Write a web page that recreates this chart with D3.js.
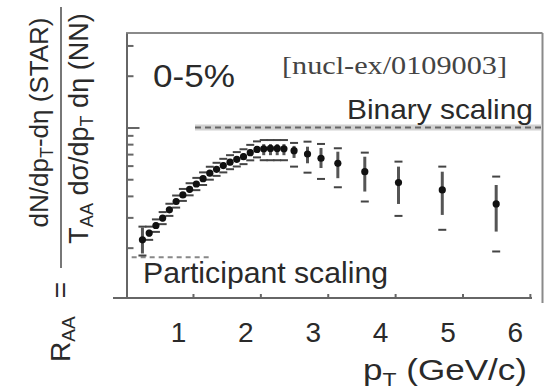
<!DOCTYPE html>
<html><head><meta charset="utf-8">
<script src="https://cdn.jsdelivr.net/npm/d3@7/dist/d3.min.js"></script>
<style>body{margin:0;background:#fff}svg{display:block}</style>
</head><body>
<script>
// ---- data ----
const pt     = [0.25,0.35,0.45,0.55,0.65,0.75,0.85,0.95,1.05,1.15,1.25,1.35,1.45,1.55,1.65,1.75,1.85,1.95,2.05,2.15,2.25,2.35,2.5,2.7,2.9,3.15,3.55,4.05,4.7,5.5];
const raa    = [0.222,0.243,0.269,0.297,0.332,0.371,0.405,0.437,0.469,0.504,0.542,0.571,0.600,0.628,0.653,0.676,0.714,0.745,0.752,0.755,0.755,0.752,0.733,0.701,0.662,0.619,0.553,0.478,0.433,0.359];
const statLo = [0.185,0.232,0.258,0.285,0.319,0.357,0.389,0.420,0.451,0.484,0.521,0.549,0.576,0.602,0.626,0.647,0.683,0.711,0.69,0.69,0.69,0.69,0.665,0.619,0.581,0.507,0.424,0.359,0.310,0.248];
const statHi = [0.262,0.254,0.280,0.309,0.345,0.386,0.421,0.455,0.488,0.524,0.564,0.594,0.625,0.655,0.681,0.706,0.746,0.780,0.80,0.80,0.80,0.80,0.781,0.773,0.760,0.723,0.676,0.592,0.553,0.463];
const sysLo  = [0.180,0.222,0.247,0.274,0.306,0.342,0.374,0.403,0.432,0.463,0.497,0.523,0.548,0.572,0.593,0.612,0.644,0.670,0.645,0.645,0.645,0.645,0.592,0.546,0.502,0.449,0.371,0.306,0.254,0.190];
const sysHi  = [0.265,0.265,0.292,0.322,0.360,0.402,0.439,0.474,0.509,0.548,0.591,0.623,0.657,0.690,0.719,0.747,0.792,0.830,0.845,0.845,0.845,0.845,0.813,0.827,0.802,0.757,0.714,0.633,0.592,0.518];
const xTicks = [1,2,3,4,5,6];
const yMinorTicks = [0.2,0.3,0.4,0.5,0.6,0.7,0.8,0.9,2,3];
const yMajorTicks = [1];
const binaryLevel = 1.0, binaryFrom = 1.03;
const participantLevel = 0.176, participantRange = [0.09,1.25];
const centralityLabel = "0-5%";
const refLabel = "[nucl-ex/0109003]";

// ---- layout ----
const W = 544, H = 389;
const svg = d3.select("body").append("svg").attr("width", W).attr("height", H)
  .style("font-family", "'Liberation Sans', Arial, sans-serif");
const x = d3.scaleLinear().domain([0, 6.18]).range([125.6, 542]);
const y = d3.scaleLog().domain([0.1019, 3.544]).range([298, 33]);
const axisCol = "#666", textCol = "#2a2a2a";

// frame top + right
svg.append("line").attr("x1",126).attr("x2",542.5).attr("y1",33).attr("y2",33).attr("stroke","#8a8a8a").attr("stroke-width",2);
svg.append("line").attr("x1",542.5).attr("x2",542.5).attr("y1",33).attr("y2",303).attr("stroke","#8a8a8a").attr("stroke-width",2);

// left axis (inward ticks)
const gy = svg.append("g").attr("transform","translate(126.5,0)");
gy.call(d3.axisRight(y).tickValues(yMinorTicks).tickSizeInner(7).tickSizeOuter(0).tickFormat(""));
gy.append("g").call(d3.axisRight(y).tickValues(yMajorTicks).tickSizeInner(13).tickSizeOuter(0).tickFormat(""))
  .select(".domain").remove();
gy.selectAll("path,line").attr("stroke",axisCol).attr("stroke-width",2);

// bottom axis
svg.append("line").attr("x1",113).attr("x2",532).attr("y1",298).attr("y2",298).attr("stroke",axisCol).attr("stroke-width",2);
const gx = svg.append("g").attr("transform","translate(0,298)");
gx.call(d3.axisBottom(x).tickValues(xTicks).tickSizeInner(-4).tickSizeOuter(0).tickPadding(24).tickFormat(d3.format("d")));
gx.select(".domain").remove();
gx.selectAll("line").attr("stroke",axisCol).attr("stroke-width",2);
gx.selectAll("text").attr("font-size",28).attr("fill",textCol).attr("dx",-15)
  .style("font-family","'Liberation Sans', Arial, sans-serif");

// binary scaling line
svg.append("line").attr("x1",x(binaryFrom)).attr("x2",x(6.18)).attr("y1",y(binaryLevel)).attr("y2",y(binaryLevel))
  .attr("stroke","#d2d2d2").attr("stroke-width",6);
svg.append("line").attr("x1",x(binaryFrom)).attr("x2",x(6.18)).attr("y1",y(binaryLevel)).attr("y2",y(binaryLevel))
  .attr("stroke","#666").attr("stroke-width",2).attr("stroke-dasharray","6,4");
// participant scaling line
svg.append("line").attr("x1",x(participantRange[0])).attr("x2",x(participantRange[1]))
  .attr("y1",y(participantLevel)).attr("y2",y(participantLevel))
  .attr("stroke","#888").attr("stroke-width",2).attr("stroke-dasharray","5,4");

// data
const pts = pt.map((p,i)=>({p, v:raa[i], sl:statLo[i], sh:statHi[i], yl:sysLo[i], yh:sysHi[i]}));
const g = svg.append("g");
g.selectAll(".cap-hi").data(pts).join("line")
  .attr("x1",d=>x(d.p)-4).attr("x2",d=>x(d.p)+4).attr("y1",d=>y(d.yh)).attr("y2",d=>y(d.yh))
  .attr("stroke","#444").attr("stroke-width",2);
g.selectAll(".cap-lo").data(pts).join("line")
  .attr("x1",d=>x(d.p)-4).attr("x2",d=>x(d.p)+4).attr("y1",d=>y(d.yl)).attr("y2",d=>y(d.yl))
  .attr("stroke","#444").attr("stroke-width",2);
g.selectAll(".stat").data(pts).join("line")
  .attr("x1",d=>x(d.p)).attr("x2",d=>x(d.p)).attr("y1",d=>y(d.sl)).attr("y2",d=>y(d.sh))
  .attr("stroke","#555").attr("stroke-width",3);
g.selectAll("circle").data(pts).join("circle")
  .attr("cx",d=>x(d.p)).attr("cy",d=>y(d.v)).attr("r",3.6).attr("fill","#111");

// texts in plot
svg.append("text").attr("x",153).attr("y",86.5).attr("font-size",31).attr("fill",textCol)
  .attr("textLength",82).attr("lengthAdjust","spacingAndGlyphs").text(centralityLabel);
svg.append("text").attr("x",282).attr("y",73.5).attr("font-size",26).attr("fill","#444")
  .style("font-family","'Liberation Serif', 'Times New Roman', serif")
  .attr("textLength",225).attr("lengthAdjust","spacingAndGlyphs").text(refLabel);
svg.append("text").attr("x",347).attr("y",118.5).attr("font-size",28).attr("fill",textCol)
  .attr("textLength",186).attr("lengthAdjust","spacingAndGlyphs").text("Binary scaling");
svg.append("text").attr("x",143).attr("y",283).attr("font-size",29).attr("fill",textCol)
  .attr("textLength",245).attr("lengthAdjust","spacingAndGlyphs").text("Participant scaling");

// x title
const xt = svg.append("text").attr("x",363).attr("y",380).attr("font-size",29).attr("fill",textCol)
  .attr("textLength",164).attr("lengthAdjust","spacingAndGlyphs");
xt.append("tspan").text("p");
xt.append("tspan").attr("font-size",19).attr("dy",6).text("T");
xt.append("tspan").attr("dy",-6).text(" (GeV/c)");

// y title (rotated fraction)
const num = svg.append("text").attr("transform","translate(48,122.5) rotate(-90)")
  .attr("text-anchor","middle").attr("font-size",26).attr("fill",textCol);
num.append("tspan").text("dN/dp");
num.append("tspan").attr("font-size",18).attr("dy",5).text("T");
num.append("tspan").attr("dy",-5).text("-d\u03b7 (STAR)");
svg.append("line").attr("x1",61).attr("x2",61).attr("y1",7).attr("y2",268).attr("stroke","#555").attr("stroke-width",1.6);
const den = svg.append("text").attr("transform","translate(88.3,128.5) rotate(-90)")
  .attr("text-anchor","middle").attr("font-size",27).attr("fill",textCol);
den.append("tspan").text("T");
den.append("tspan").attr("font-size",18).attr("dy",5).text("AA");
den.append("tspan").attr("dy",-5).text(" d\u03c3/dp");
den.append("tspan").attr("font-size",18).attr("dy",5).text("T");
den.append("tspan").attr("dy",-5).text(" d\u03b7 (NN)");
const raaT = svg.append("text").attr("transform","translate(70,362) rotate(-90)")
  .attr("font-size",28).attr("fill",textCol);
raaT.append("tspan").text("R");
raaT.append("tspan").attr("font-size",19).attr("dy",5).text("AA");
svg.append("text").attr("transform","translate(70,290) rotate(-90)").attr("text-anchor","middle")
  .attr("font-size",28).attr("fill",textCol).text("=");
</script>
</body></html>
